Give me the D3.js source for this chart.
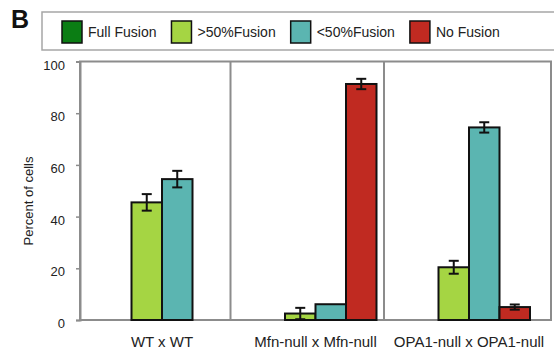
<!DOCTYPE html>
<html>
<head>
<meta charset="utf-8">
<script src="https://cdn.jsdelivr.net/npm/d3@7"></script>
<style>
  html, body { margin: 0; padding: 0; background: #fff; }
  svg { display: block; font-family: "Liberation Sans", Arial, Helvetica, sans-serif; }
</style>
</head>
<body>
<svg id="chart" width="554" height="351"></svg>
<script>
// ---- data ----
const groups = ["WT x WT", "Mfn-null x Mfn-null", "OPA1-null x OPA1-null"];
const series = ["Full Fusion", ">50%Fusion", "<50%Fusion", "No Fusion"];
const colors = ["#0b7d14", "#a5d543", "#5bb5b1", "#c02a21"];
const fullFusion  = [0, 0, 0];
const over50      = [45.5, 2.5, 20.4];
const under50     = [54.5, 6.1, 74.5];
const noFusion    = [0, 91.3, 5.0];
const fullFusionErr = [0, 0, 0];
const over50Err     = [3.2, 2.2, 2.5];
const under50Err    = [3.2, 0, 2.0];
const noFusionErr   = [0, 2.0, 1.0];
const yTicks = [0, 20, 40, 60, 80, 100];

const values = [fullFusion, over50, under50, noFusion];
const errs = [fullFusionErr, over50Err, under50Err, noFusionErr];

const svg = d3.select("#chart");
const frame = { left: 80, right: 551, top: 61.5, bottom: 320 };

const y = d3.scaleLinear().domain([0, 100]).range([frame.bottom, frame.top]);
const x0 = d3.scaleBand().domain(groups).range([85, 545.5]).padding(0);
const x1 = d3.scaleBand().domain(series).range([16, 138]).padding(0);

const gray = "#8c8c8c";

// frame
svg.append("rect")
  .attr("x", frame.left).attr("y", frame.top)
  .attr("width", frame.right - frame.left).attr("height", frame.bottom - frame.top)
  .attr("fill", "none").attr("stroke", gray).attr("stroke-width", 2);

// group dividers
groups.slice(1).forEach(g => {
  svg.append("line")
    .attr("x1", x0(g) - 8).attr("x2", x0(g) - 8)
    .attr("y1", frame.top).attr("y2", frame.bottom)
    .attr("stroke", gray).attr("stroke-width", 2);
});

// y axis
const yAxis = d3.axisLeft(y).tickValues(yTicks).tickSize(4).tickPadding(11);
const ya = svg.append("g").attr("transform", `translate(${frame.left},0)`).call(yAxis);
ya.select(".domain").attr("stroke", gray).attr("stroke-width", 2);
ya.selectAll(".tick line").attr("stroke", gray).attr("stroke-width", 1.5);
ya.selectAll(".tick text").attr("font-size", 13).attr("fill", "#222").attr("dy", "0.58em")
  .attr("font-family", "Liberation Sans, Arial, sans-serif");

// y title
svg.append("text")
  .attr("transform", "translate(33,201) rotate(-90)")
  .attr("text-anchor", "middle")
  .attr("font-size", 13).attr("fill", "#222")
  .text("Percent of cells");

// bars
const barData = [];
groups.forEach((g, gi) => {
  series.forEach((s, si) => {
    barData.push({ g, s, si, v: values[si][gi], e: errs[si][gi] });
  });
});

const bg = svg.append("g");
bg.selectAll("rect.bar").data(barData.filter(d => d.v > 0)).join("rect")
  .attr("class", "bar")
  .attr("x", d => x0(d.g) + x1(d.s))
  .attr("y", d => y(d.v))
  .attr("width", x1.bandwidth())
  .attr("height", d => y(0) - y(d.v))
  .attr("fill", d => colors[d.si])
  .attr("stroke", "#111").attr("stroke-width", 2);

// error bars
const eb = svg.append("g").attr("stroke", "#111").attr("stroke-width", 2);
barData.filter(d => d.v > 0 && d.e > 0).forEach(d => {
  const cx = x0(d.g) + x1(d.s) + x1.bandwidth() / 2;
  const top = y(d.v + d.e), bot = y(Math.max(0, d.v - d.e));
  eb.append("line").attr("x1", cx).attr("x2", cx).attr("y1", top).attr("y2", bot);
  eb.append("line").attr("x1", cx - 5).attr("x2", cx + 5).attr("y1", top).attr("y2", top);
  eb.append("line").attr("x1", cx - 5).attr("x2", cx + 5).attr("y1", bot).attr("y2", bot);
});

// category labels
svg.append("g").selectAll("text").data(groups).join("text")
  .attr("x", d => x0(d) + x1.range()[0] + (x1.range()[1] - x1.range()[0]) / 2)
  .attr("y", 347)
  .attr("text-anchor", "middle")
  .attr("font-size", 15).attr("fill", "#222")
  .text(d => d);

// legend
svg.append("rect")
  .attr("x", 42).attr("y", 12).attr("width", 540).attr("height", 38)
  .attr("fill", "#fff").attr("stroke", "#a6a6a6").attr("stroke-width", 1.5);

let lx = 62;
series.forEach((s, si) => {
  svg.append("rect")
    .attr("x", lx).attr("y", 21).attr("width", 20).attr("height", 22)
    .attr("fill", colors[si]).attr("stroke", "#111").attr("stroke-width", 1.5);
  const t = svg.append("text")
    .attr("x", lx + 26).attr("y", 37)
    .attr("font-size", 14).attr("fill", "#222")
    .text(s);
  lx = lx + 26 + t.node().getComputedTextLength() + 15;
});

// panel letter
svg.append("text")
  .attr("x", 11).attr("y", 28)
  .attr("font-size", 25).attr("font-weight", "bold").attr("fill", "#111")
  .text("B");
</script>
</body>
</html>
